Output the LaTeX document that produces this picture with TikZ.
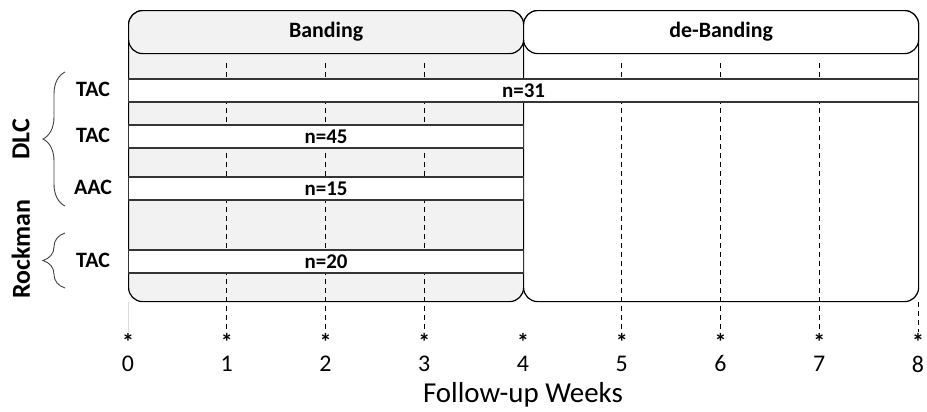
\documentclass[tikz,border=0pt]{standalone}
\usepackage{fontspec}
\setmainfont{Carlito}
\usetikzlibrary{decorations.pathreplacing}
\definecolor{panelgray}{HTML}{F2F2F2}
\definecolor{barline}{HTML}{353535}
\definecolor{faintline}{HTML}{DCDCDC}

\begin{document}
\begin{tikzpicture}[x=1bp,y=-1bp,
  lbl/.style={font=\fontsize{22}{26}\selectfont\bfseries, inner sep=0pt},
  grplbl/.style={font=\fontsize{26}{30}\selectfont\bfseries, inner sep=0pt, rotate=90},
  panel/.style={draw=black, line width=1.2bp, rounded corners=14bp,
    anchor=north west, inner sep=0pt, minimum width=395bp},
  header/.style={panel, minimum height=43bp, font=\fontsize{22}{26}\selectfont\bfseries},
  bar/.style={draw=barline, line width=1.3bp, fill=white, anchor=west,
    minimum height=23bp, inner sep=0pt, font=\fontsize{21}{25}\selectfont\bfseries},
  dashline/.style={line width=1.1bp, dash pattern=on 5bp off 4bp},
  grpbrace/.style={decorate, decoration={brace, amplitude=22bp}, line width=0.9bp, draw=black!75},
  tick/.style={font=\fontsize{24}{28}\selectfont, inner sep=0pt, anchor=north},
  mark star/.style={font=\fontsize{24}{28}\selectfont\bfseries, inner sep=0pt, anchor=base}
]
\useasboundingbox (0,0) rectangle (927,411);

% panel bodies
\node[panel, fill=panelgray, minimum height=291bp] (bandbody) at (128,10) {};
\node[panel, fill=white, minimum height=291bp] (debandbody) at (523,10) {};

% week markers and numbers
\foreach \k in {0,...,8}{
  \pgfmathsetmacro{\wx}{128+98.75*\k}
  \node[mark star] (s\k) at (\wx,350) {*};
  \node[tick] (n\k) at (\wx,355.5) {\k};
  \coordinate (t\k) at (\wx,63);
  \coordinate (e\k) at (\wx,332);
  \coordinate (f\k) at (\wx,302);
}
\foreach \k in {1,2,3,5,6,7}{
  \draw[dashline] (t\k) -- (e\k);
}
\draw[dashline, line width=1bp] (f8) -- (e8);
\draw[faintline, line width=1bp] (f0) -- (e0);

% group bars
\node[bar, minimum width=790bp] (bar1) at (128,90.5) {n=31};
\node[bar, minimum width=395bp] (bar2) at (128,136.5) {n=45};
\node[bar, minimum width=395bp] (bar3) at (128,188.5) {n=15};
\node[bar, minimum width=395bp] (bar4) at (128,261.5) {n=20};

% phase headers
\node[header, fill=panelgray] (bandhead) at (128,10) {Banding};
\node[header, fill=white] (debandhead) at (523,10) {de-Banding};

% row labels
\node[lbl] (r1) at (93,89) {TAC};
\node[lbl] (r2) at (93,135.5) {TAC};
\node[lbl] (r3) at (93,187.5) {AAC};
\node[lbl] (r4) at (93,260.5) {TAC};

% groups
\coordinate (dlcTop) at (65,72);
\coordinate (dlcBot) at (65,206);
\coordinate (rocTop) at (65,233);
\coordinate (rocBot) at (65,288);
\draw[grpbrace] (dlcBot) -- (dlcTop);
\draw[grpbrace] (rocBot) -- (rocTop);
\node[grplbl] (dlc) at (21,139) {DLC};
\node[grplbl] (rockman) at (21,249) {Rockman};

% axis title
\node[font=\fontsize{29}{33}\selectfont, inner sep=0pt] (axis) at (523,395) {Follow-up Weeks};
\end{tikzpicture}
\end{document}
